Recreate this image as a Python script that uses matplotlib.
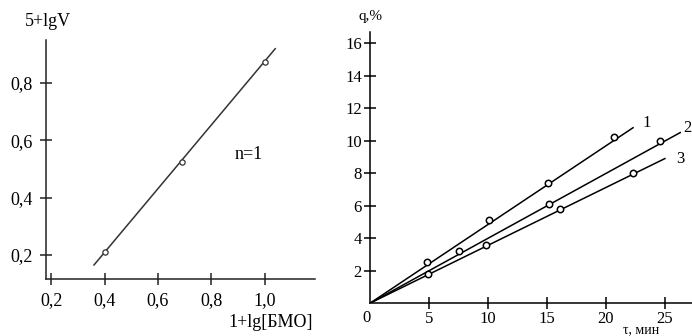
import matplotlib.pyplot as plt
from matplotlib.ticker import FuncFormatter

plt.rcParams['font.family'] = ['Liberation Serif', 'DejaVu Serif']

# left panel: 5+lgV vs 1+lg[БМО]
lg_bmo = [0.40, 0.69, 1.00]
lg_v = [0.21, 0.525, 0.875]
fit_x = [0.36, 1.04]
fit_y = [0.165, 0.92]
left_xticks = [0.2, 0.4, 0.6, 0.8, 1.0]
left_yticks = [0.2, 0.4, 0.6, 0.8]

# right panel: q,% vs tau, min
t1 = [4.8, 10.1, 15.1, 20.7]
q1 = [2.5, 5.1, 7.4, 10.2]
t2 = [7.5, 15.2, 24.6]
q2 = [3.2, 6.1, 10.0]
t3 = [4.9, 9.8, 16.1, 22.3]
q3 = [1.8, 3.6, 5.8, 8.0]
ends = [(22.3, 10.8), (26.3, 10.5), (25.0, 8.9)]
curve_labels = ["1", "3"]
label_pos = [(23.1, 11.1), (26.0, 8.9)]
right_xticks = [5, 10, 15, 20, 25]
right_yticks = [2, 4, 6, 8, 10, 12, 14, 16]

comma = FuncFormatter(lambda v, p: f"{v:.1f}".replace(".", ","))
ink = "#222222"

fig = plt.figure(figsize=(6.92, 3.36), dpi=100)

ax1 = fig.add_axes([0.0665, 0.1696, 0.389, 0.711])
ax1.plot(fit_x, fit_y, color="#333333", lw=1.1)
ax1.plot(lg_bmo, lg_v, "o", ms=3.8, mfc="white", mec="#333333", mew=0.9)
ax1.text(0.94, 0.55, "n=1", fontsize=13, ha="center", va="center")
ax1.set_xlim(0.18, 1.19)
ax1.set_ylim(0.116, 0.95)
ax1.set_xticks(left_xticks)
ax1.set_yticks(left_yticks)
ax1.xaxis.set_major_formatter(comma)
ax1.yaxis.set_major_formatter(comma)
for s in ["top", "right"]:
    ax1.spines[s].set_visible(False)
for s in ["left", "bottom"]:
    ax1.spines[s].set_color(ink)
    ax1.spines[s].set_linewidth(1.1)
ax1.tick_params(direction="inout", length=9, width=1.1, color=ink,
                labelsize=13, pad=5)
fig.text(0.036, 0.935, "5+lgV", fontsize=13, ha="left", va="center")
fig.text(0.452, 0.04, "1+lg[БМО]", fontsize=13, ha="right", va="center")

ax2 = fig.add_axes([0.535, 0.098, 0.465, 0.807])
for (tx, qy, end) in [(t1, q1, ends[0]), (t2, q2, ends[1]), (t3, q3, ends[2])]:
    ax2.plot([0, end[0]], [0, end[1]], color="black", lw=1.1)
    ax2.plot(tx, qy, "o", ms=4.6, mfc="white", mec="black", mew=1.1)
for lab, (lx, ly) in zip(curve_labels, label_pos):
    ax2.text(lx, ly, lab, fontsize=12, ha="left", va="center", clip_on=False)
ax2.set_xlim(0, 27.3)
ax2.set_ylim(0, 16.7)
ax2.set_xticks(right_xticks)
ax2.set_yticks(right_yticks)
for s in ["top", "right"]:
    ax2.spines[s].set_visible(False)
for s in ["left", "bottom"]:
    ax2.spines[s].set_linewidth(1.1)
ax2.tick_params(direction="inout", length=8, width=1.1, labelsize=12, pad=2)
ax2.text(-0.3, -0.4, "0", fontsize=12, ha="center", va="top")
fig.text(0.999, 0.62, "2", fontsize=12, ha="right", va="center")
fig.text(0.535, 0.95, "q,%", fontsize=11, ha="center", va="center")
fig.text(0.9, 0.0, "τ, мин", fontsize=10, ha="left", va="bottom")

fig.savefig("out.png", dpi=100)
